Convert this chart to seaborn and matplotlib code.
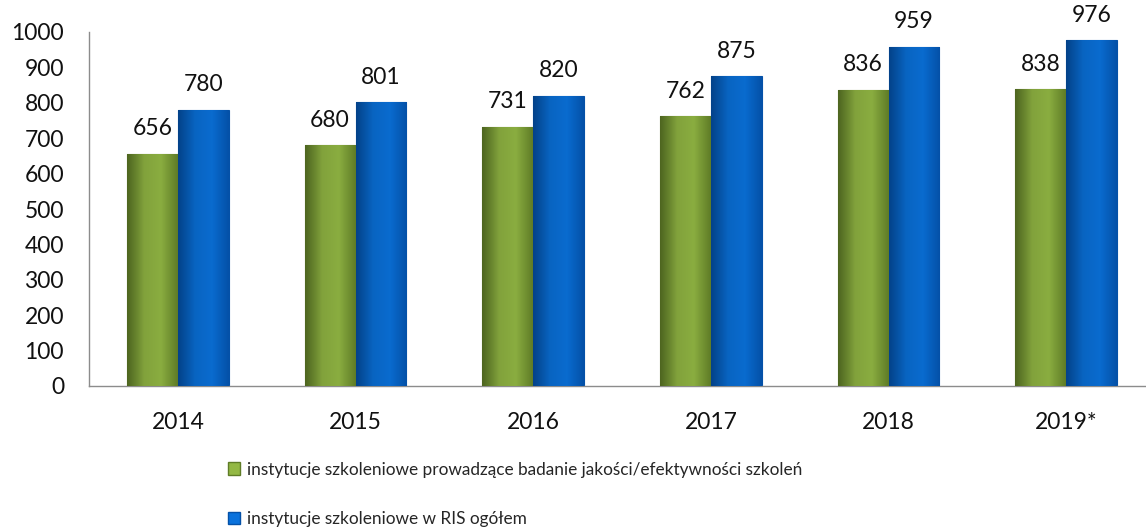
import matplotlib
matplotlib.use("Agg")
import matplotlib.pyplot as plt
import matplotlib.colors as mcolors
from matplotlib.patches import Rectangle
import numpy as np
import pandas as pd
import seaborn as sns

years = ["2014", "2015", "2016", "2017", "2018", "2019*"]
quality_research = [656, 680, 731, 762, 836, 838]
total_ris = [780, 801, 820, 875, 959, 976]
series_names = [
    "instytucje szkoleniowe prowadzące badanie jakości/efektywności szkoleń",
    "instytucje szkoleniowe w RIS ogółem",
]

GREEN = ("#5f7c27", "#93b844")
BLUE = ("#0451a8", "#0a72dc")

df = pd.DataFrame({
    "year": years * 2,
    "value": quality_research + total_ris,
    "series": [series_names[0]] * len(years) + [series_names[1]] * len(years),
})

sns.set_style("white")
plt.rcParams["font.family"] = ["Lato", "DejaVu Sans"]

fig = plt.figure(figsize=(11.46, 5.31), dpi=100)
ax = fig.add_axes([89 / 1146, 1 - 386 / 531, (1155 - 89) / 1146, (386 - 32) / 531])

sns.barplot(data=df, x="year", y="value", hue="series", order=years,
            hue_order=series_names, palette=[GREEN[1], BLUE[1]],
            width=0.574, saturation=1, legend=False, ax=ax)


def shade(patch, dark, light):
    # horizontal gradient: darker edges, lighter middle, darker towards base
    x0, y0 = patch.get_x(), patch.get_y()
    w, h = patch.get_width(), patch.get_height()
    cmap = mcolors.LinearSegmentedColormap.from_list("g", [dark, light, light, dark])
    xs = np.linspace(0, 1, 64)
    ys = np.linspace(0, 1, 64)[:, None]
    img = cmap(np.tile(xs, (64, 1)))
    img[..., :3] *= (0.82 + 0.18 * ys)
    im = ax.imshow(img, extent=[x0, x0 + w, y0, y0 + h], origin="lower",
                   aspect="auto", zorder=3, interpolation="bilinear")
    im.set_clip_path(patch)
    patch.set_edgecolor(dark)
    patch.set_linewidth(0.8)


for patch, value in zip(ax.patches, quality_research + total_ris):
    is_green = patch.get_facecolor()[1] > patch.get_facecolor()[2]
    dark, light = GREEN if is_green else BLUE
    shade(patch, dark, light)
    ax.annotate(str(value), (patch.get_x() + patch.get_width() / 2, patch.get_height()),
                xytext=(0, 13.5), textcoords="offset points", ha="center", va="baseline",
                fontsize=16.5, color="#111111")

ax.set_xlim(-0.5, len(years) - 0.5)
ax.set_ylim(0, 1000)
ax.set_yticks(range(0, 1001, 100))
ax.set_xlabel("")
ax.set_ylabel("")

for side in ["top", "right"]:
    ax.spines[side].set_visible(False)
for side in ["left", "bottom"]:
    ax.spines[side].set_color("#8c8c8c")
    ax.spines[side].set_linewidth(1.0)

ax.set_xticks(np.arange(len(years)))
ax.set_xticklabels(years)
ax.set_xticks(np.arange(len(years) + 1) - 0.5, minor=True)
ax.tick_params(axis="x", which="major", length=0, pad=19, labelsize=16.5, colors="#111111")
ax.tick_params(axis="x", which="minor", length=6, width=1, color="#8c8c8c", direction="out")
ax.tick_params(axis="y", length=6, width=1, color="#8c8c8c", direction="out",
               labelsize=16.5, pad=12, labelcolor="#111111")
ax.grid(False)

handles = [Rectangle((0, 0), 1, 1, facecolor=GREEN[1], edgecolor=GREEN[0]),
           Rectangle((0, 0), 1, 1, facecolor=BLUE[1], edgecolor=BLUE[0])]
fig.legend(handles, series_names, loc="upper left", bbox_to_anchor=(212 / 1146, 1 - 446 / 531),
           frameon=False, fontsize=12.4, handlelength=0.7, handleheight=0.7,
           handletextpad=0.45, labelspacing=1.95)

fig.savefig("out.png", dpi=100)
